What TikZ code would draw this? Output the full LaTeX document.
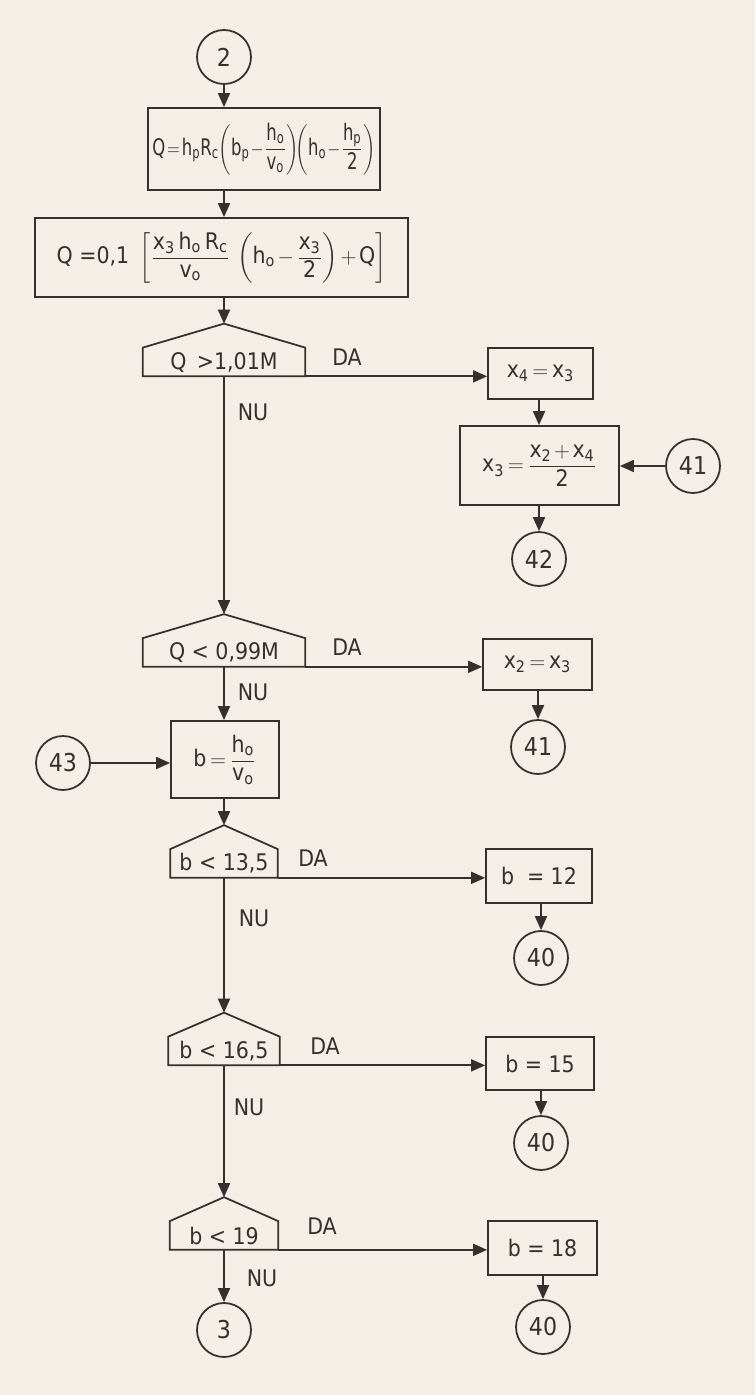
\documentclass[tikz,border=0pt]{standalone}
\usepackage{amsmath}
\usepackage{graphicx}
\usepackage{fontspec}
\setmainfont{DejaVu Sans Condensed}
\usetikzlibrary{arrows.meta, positioning, calc}
\definecolor{paper}{HTML}{F3EEE6}
\definecolor{ink}{HTML}{35302C}
\newcommand{\sbv}[2]{\text{#1}_{\text{#2}}}
\newcommand{\fml}[1]{$\medmuskip=2mu\thickmuskip=3mu\displaystyle #1$}

\begin{document}
\begin{tikzpicture}[
  x=0.02cm, y=-0.02cm,
  >={Triangle[length=2.8mm, width=2.4mm]},
  flowline/.style={draw=ink, line width=1pt},
  procbox/.style={draw=ink, line width=1pt, inner sep=0pt, align=center,
    text=ink, font=\fontsize{13}{15}\selectfont},
  testbox/.style={inner sep=0pt, minimum height=0.56cm, text=ink,
    font=\fontsize{13}{15}\selectfont},
  connector/.style={circle, draw=ink, line width=1pt, minimum size=1.08cm,
    inner sep=0pt, text=ink, font=\fontsize{14}{16}\selectfont},
  answer/.style={text=ink, font=\fontsize{13}{15}\selectfont},
]

% Background
\fill[paper] (0,0) rectangle (755,1395);
\useasboundingbox (0,0) rectangle (755,1395);

% === Main column ===
\node[connector] (c2) at (224,57) {2};
\node[procbox, minimum width=4.64cm, minimum height=1.64cm] (box1) at (264,149)
  {\scalebox{0.8}[1]{\fml{\medmuskip=1mu\thickmuskip=2mu\text{Q} = \sbv{h}{p}\sbv{R}{c}\!\left(\sbv{b}{p} - \frac{\sbv{h}{o}}{\sbv{v}{o}}\right)\!\!\left(\sbv{h}{o} - \frac{\sbv{h}{p}}{\text{2}}\right)}}};
\node[procbox, minimum width=7.46cm, minimum height=1.58cm] (box2) at (221.5,257.5)
  {\fml{\text{Q =0,1}\;\;\left[\frac{\sbv{x}{3}\,\sbv{h}{o}\,\sbv{R}{c}}{\sbv{v}{o}}\;\left(\sbv{h}{o} - \frac{\sbv{x}{3}}{\text{2}}\right) + \text{Q}\right]}};

\node[testbox, minimum width=3.24cm] (dq1) at (224,362) {Q \,>1,01M};
\node[testbox, minimum width=3.24cm] (dq2) at (224,652.5) {Q < 0,99M};
\node[procbox, minimum width=2.16cm, minimum height=1.54cm] (bb) at (225,759.5)
  {\fml{\text{b} = \frac{\sbv{h}{o}}{\sbv{v}{o}}}};
\node[connector] (c43) at (63,763) {43};
\node[testbox, minimum width=2.14cm] (db1) at (224,863.5) {b < 13,5};
\node[testbox, minimum width=2.22cm] (db2) at (224,1051) {b < 16,5};
\node[testbox, minimum width=2.16cm] (db3) at (224,1235.5) {b < 19};
\node[connector] (c3) at (224,1330) {3};

% === Right column ===
\node[procbox, minimum width=2.1cm, minimum height=1.02cm] (bx4) at (540.5,373.5)
  {\fml{\sbv{x}{4} = \sbv{x}{3}}};
\node[procbox, minimum width=3.18cm, minimum height=1.58cm] (bx3) at (539.5,465.5)
  {\fml{\sbv{x}{3} = \frac{\sbv{x}{2} + \sbv{x}{4}}{\text{2}}}};
\node[connector] (c41a) at (693,466) {41};
\node[connector] (c42) at (539,559) {42};
\node[procbox, minimum width=2.18cm, minimum height=1.02cm] (bx2) at (537.5,664.5)
  {\fml{\sbv{x}{2} = \sbv{x}{3}}};
\node[connector] (c41b) at (538,747) {41};
\node[procbox, minimum width=2.12cm, minimum height=1.08cm] (bb12) at (539,876) {b \;= 12};
\node[connector] (c40a) at (541,958) {40};
\node[procbox, minimum width=2.16cm, minimum height=1.06cm] (bb15) at (540,1063.5) {b = 15};
\node[connector] (c40b) at (541,1143) {40};
\node[procbox, minimum width=2.18cm, minimum height=1.08cm] (bb18) at (542.5,1248) {b = 18};
\node[connector] (c40c) at (543,1327) {40};

% decision roofs
\foreach \t in {dq1,dq2,db1,db2,db3}{
  \coordinate (\t-top) at ([yshift=0.48cm]\t.north);
  \draw[flowline] (\t.south west) -- (\t.north west) -- (\t-top)
    -- (\t.north east) -- (\t.south east) -- cycle;
}

% === Answers ===
\node[answer] at (347,357) {DA};
\node[answer] at (347,647) {DA};
\node[answer] at (313,858) {DA};
\node[answer] at (325,1046) {DA};
\node[answer] at (322,1226) {DA};
\node[answer] at (253,412) {NU};
\node[answer] at (253,692) {NU};
\node[answer] at (254,918) {NU};
\node[answer] at (249,1107) {NU};
\node[answer] at (262,1278) {NU};

% === Connectors ===
\draw[flowline,->] (c2) -- (c2 |- box1.north);
\draw[flowline,->] (box1.south -| c2) -- (box2.north -| c2);
\draw[flowline,->] (box2.south -| dq1-top) -- (dq1-top);
\draw[flowline,->] (dq1-top |- dq1.south) -- (dq2-top);
\draw[flowline,->] (dq1.south east) -- (dq1.south east -| bx4.west);
\draw[flowline,->] (bx4.south -| c42) -- (bx3.north -| c42);
\draw[flowline,->] (bx3.south -| c42) -- (c42);
\draw[flowline,->] (c41a) -- (c41a -| bx3.east);
\draw[flowline,->] (dq2.south east) -- (dq2.south east -| bx2.west);
\draw[flowline,->] (bx2.south -| c41b) -- (c41b);
\draw[flowline,->] (dq2-top |- dq2.south) -- (dq2-top |- bb.north);
\draw[flowline,->] (c43) -- (c43 -| bb.west);
\draw[flowline,->] (bb.south -| db1-top) -- (db1-top);
\draw[flowline,->] (db1.south east) -- (db1.south east -| bb12.west);
\draw[flowline,->] (bb12.south -| c40a) -- (c40a);
\draw[flowline,->] (db1-top |- db1.south) -- (db2-top);
\draw[flowline,->] (db2.south east) -- (db2.south east -| bb15.west);
\draw[flowline,->] (bb15.south -| c40b) -- (c40b);
\draw[flowline,->] (db2-top |- db2.south) -- (db3-top);
\draw[flowline,->] (db3.south east) -- (db3.south east -| bb18.west);
\draw[flowline,->] (bb18.south -| c40c) -- (c40c);
\draw[flowline,->] (db3-top |- db3.south) -- (c3);

\end{tikzpicture}
\end{document}
